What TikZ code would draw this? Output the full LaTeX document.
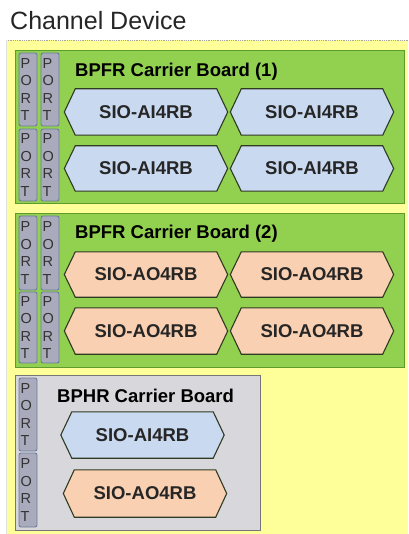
\documentclass[tikz,border=0pt]{standalone}
\usepackage{fontspec}
\setmainfont{Liberation Sans}
\pgfdeclarelayer{board}
\pgfdeclarelayer{shape}
\pgfsetlayers{board,shape,main}

\definecolor{devyellow}{HTML}{FFFF99}
\definecolor{boardgreen}{HTML}{92D050}
\definecolor{boardgreenline}{HTML}{5E9A2C}
\definecolor{boardgray}{HTML}{D8D8DC}
\definecolor{boardgrayline}{HTML}{767676}
\definecolor{portfill}{HTML}{A9AABB}
\definecolor{portline}{HTML}{6C7C9C}
\definecolor{aifill}{HTML}{C9D9EF}
\definecolor{aofill}{HTML}{FAD0B2}
\definecolor{hexedge}{HTML}{2F3A22}

\tikzset{
  portbox/.style={draw=portline, fill=portfill, line width=0.9pt, rounded corners=2pt,
    minimum width=18pt, inner xsep=1.5pt, inner ysep=0pt, text width=15pt, align=left,
    font=\fontsize{14.5}{17.6}\selectfont, text=black!80},
  boardtitle/.style={anchor=base west, inner sep=0pt, font=\bfseries\fontsize{18.5}{20}\selectfont},
  siotext/.style={inner sep=0pt, font=\bfseries\fontsize{18.5}{20}\selectfont, text=black!85},
  hexline/.style={draw=hexedge, line width=1.1pt, line join=miter},
  aimod/.style={fill=aifill},
  aomod/.style={fill=aofill},
}

% SIO module: name, centre x, centre y, fill style, label, height
\newcommand\siomodule[6]{%
  \node[siotext, minimum width=163pt, minimum height=#6pt] (#1) at (#2,#3) {#5};
  \begin{pgfonlayer}{shape}
    \draw[hexline,#4] ([xshift=11pt]#1.north west) -- ([xshift=-11pt]#1.north east)
      -- (#1.east) -- ([xshift=-11pt]#1.south east) -- ([xshift=11pt]#1.south west)
      -- (#1.west) -- cycle;
  \end{pgfonlayer}
}

\begin{document}
\begin{tikzpicture}[x=1pt, y=-1pt]
  \useasboundingbox (0,0) rectangle (408,534);

  % title
  \node[anchor=base west, inner sep=0pt, font=\fontsize{25}{27}\selectfont, text=black!85]
    (title) at (10,30) {Channel Device};

  \begin{pgfonlayer}{board}
    \fill[white] (0,0) rectangle (408,534);
    % device area
    \fill[devyellow] (6,40) rectangle (408,534);
    \draw[black!35, densely dotted, line width=0.8pt] (6,40.5) -- (408,40.5);
    \draw[black!12, line width=0.8pt] (6.5,40) -- (6.5,534);
    % carrier boards
    \draw[boardgreenline, fill=boardgreen, line width=0.9pt] (15,50) rectangle (404,203);
    \draw[boardgreenline, fill=boardgreen, line width=0.9pt] (15,213) rectangle (404,367);
    \draw[boardgrayline, fill=boardgray, line width=0.9pt] (15,375) rectangle (260,530);
  \end{pgfonlayer}

  % board 1
  \node[boardtitle] (t1) at (75,77) {BPFR Carrier Board (1)};
  \node[portbox, minimum height=73pt] (p11) at (28,89.5)  {P\\O\\R\\T};
  \node[portbox, minimum height=73pt] (p12) at (50,89.5)  {P\\O\\R\\T};
  \node[portbox, minimum height=72pt] (p13) at (28,165)   {P\\O\\R\\T};
  \node[portbox, minimum height=72pt] (p14) at (50,165)   {P\\O\\R\\T};
  \siomodule{m11}{146}{112}{aimod}{SIO-AI4RB}{46}
  \siomodule{m12}{312}{112}{aimod}{SIO-AI4RB}{46}
  \siomodule{m13}{146}{168.5}{aimod}{SIO-AI4RB}{45}
  \siomodule{m14}{312}{168.5}{aimod}{SIO-AI4RB}{45}

  % board 2
  \node[boardtitle] (t2) at (75,238) {BPFR Carrier Board (2)};
  \node[portbox, minimum height=74pt] (p21) at (28,253)   {P\\O\\R\\T};
  \node[portbox, minimum height=74pt] (p22) at (50,253)   {P\\O\\R\\T};
  \node[portbox, minimum height=71pt] (p23) at (28,327.5) {P\\O\\R\\T};
  \node[portbox, minimum height=71pt] (p24) at (50,327.5) {P\\O\\R\\T};
  \siomodule{m21}{146}{274.5}{aomod}{SIO-AO4RB}{45}
  \siomodule{m22}{312}{274.5}{aomod}{SIO-AO4RB}{45}
  \siomodule{m23}{146}{331}{aomod}{SIO-AO4RB}{46}
  \siomodule{m24}{312}{331}{aomod}{SIO-AO4RB}{46}

  % board 3
  \node[boardtitle] (t3) at (57,402) {BPHR Carrier Board};
  \node[portbox, minimum height=73pt] (p31) at (28,414.5) {P\\O\\R\\T};
  \node[portbox, minimum height=74pt] (p32) at (28,490)   {P\\O\\R\\T};
  \siomodule{m31}{142.5}{435}{aimod}{SIO-AI4RB}{46}
  \siomodule{m32}{145}{493.5}{aomod}{SIO-AO4RB}{47}
\end{tikzpicture}
\end{document}
